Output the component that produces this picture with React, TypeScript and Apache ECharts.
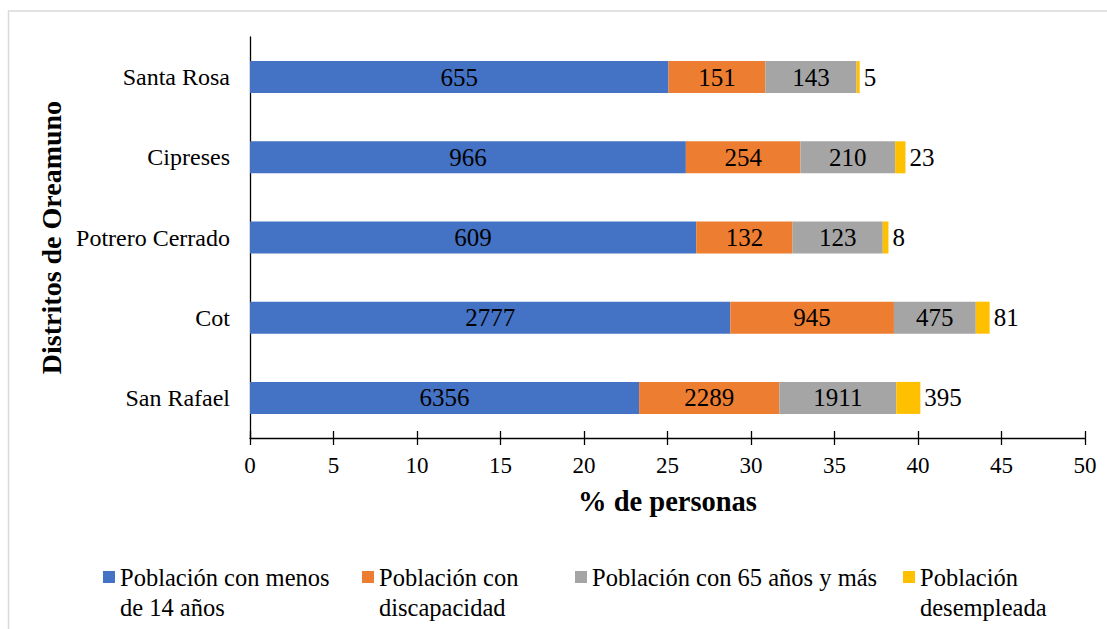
import React, { useEffect, useRef } from "react";
import * as echarts from "echarts";

const categories = ["San Rafael", "Cot", "Potrero Cerrado", "Cipreses", "Santa Rosa"];
const seriesNames = [
  "Población con menos de 14 años",
  "Población con discapacidad",
  "Población con 65 años y más",
  "Población desempleada",
];
const legendLines = [
  " \nPoblación con menos\nde 14 años",
  " \nPoblación con\ndiscapacidad",
  "Población con 65 años y más",
  " \nPoblación\ndesempleada",
];
const colors = ["#4472C4", "#ED7D31", "#A5A5A5", "#FFC000"];

// % de personas (bar lengths)
const pctMenos14 = [23.3, 28.76, 26.72, 26.1, 25.06];
const pctDiscap = [8.4, 9.8, 5.77, 6.86, 5.8];
const pct65 = [7.0, 4.9, 5.4, 5.67, 5.46];
const pctDesemp = [1.44, 0.83, 0.34, 0.62, 0.19];

// absolute counts (labels)
const cntMenos14 = [6356, 2777, 609, 966, 655];
const cntDiscap = [2289, 945, 132, 254, 151];
const cnt65 = [1911, 475, 123, 210, 143];
const cntDesemp = [395, 81, 8, 23, 5];

const xTicks = { min: 0, max: 50, interval: 5 };

const FONT = "Times New Roman, Liberation Serif, DejaVu Serif, serif";

export default function App() {
  const ref = useRef<HTMLDivElement>(null);
  useEffect(() => {
    if (!ref.current) return;
    const chart = echarts.init(ref.current, undefined, { renderer: "svg" });
    const pcts = [pctMenos14, pctDiscap, pct65, pctDesemp];
    const cnts = [cntMenos14, cntDiscap, cnt65, cntDesemp];
    const legendLeft = [103, 362, 575, 903];
    const LH = 30;
    const iconCenter = 577;
    const legends = seriesNames.map((n, i) => {
      const multi = legendLines[i].indexOf("\n") >= 0;
      return {
        data: [n],
        left: legendLeft[i],
        top: multi ? iconCenter - 1.5 * LH : iconCenter - 0.5 * LH,
        padding: 0,
        icon: "rect",
        itemWidth: 12,
        itemHeight: 12,
        selectedMode: false,
        formatter: () => legendLines[i],
        textStyle: {
          fontFamily: FONT,
          fontSize: 24.5,
          color: "#000",
          lineHeight: LH,
        },
      };
    });
    const option: any = {
      animation: false,
      backgroundColor: "#fff",
      textStyle: { fontFamily: FONT },
      graphic: [
        {
          type: "rect",
          shape: { x: 8.5, y: 11, width: 1300, height: 800 },
          style: { fill: "none", stroke: "#d9d9d9", lineWidth: 1.5 },
          silent: true,
        },
      ],
      grid: { left: 250, right: 22, top: 37, bottom: 629 - 438, containLabel: false },
      legend: legends,
      xAxis: [
        {
          type: "value",
          ...xTicks,
          position: "bottom",
          name: "% de personas",
          nameLocation: "middle",
          nameGap: 49,
          nameTextStyle: { fontFamily: FONT, fontSize: 28.5, fontWeight: "bold", color: "#000" },
          axisLine: { show: true, lineStyle: { color: "#000", width: 1.3 } },
          axisTick: { show: true, inside: false, length: 7, lineStyle: { color: "#000", width: 1.3 } },
          axisLabel: { fontFamily: FONT, fontSize: 23, color: "#000", margin: 16 },
          splitLine: { show: false },
        },
        {
          type: "value",
          ...xTicks,
          position: "bottom",
          axisLine: { show: false },
          axisTick: { show: true, inside: true, length: 7, lineStyle: { color: "#000", width: 1.3 } },
          axisLabel: { show: false },
          splitLine: { show: false },
        },
      ],
      yAxis: {
        type: "category",
        data: categories,
        name: "Distritos de Oreamuno",
        nameLocation: "middle",
        nameGap: 183,
        nameRotate: 90,
        nameTextStyle: { fontFamily: FONT, fontSize: 28, fontWeight: "bold", color: "#000" },
        axisLine: { show: true, lineStyle: { color: "#000", width: 1.3 } },
        axisTick: { show: false },
        axisLabel: { fontFamily: FONT, fontSize: 24, color: "#000", margin: 20 },
        splitLine: { show: false },
      },
      series: seriesNames.map((n, i) => ({
        name: n,
        type: "bar",
        stack: "total",
        xAxisIndex: 0,
        barWidth: 32,
        itemStyle: { color: colors[i] },
        label: {
          show: true,
          position: i === 3 ? "right" : "inside",
          distance: 4,
          fontFamily: FONT,
          fontSize: 25,
          color: "#000",
          formatter: (p: any) => String(cnts[i][p.dataIndex]),
        },
        data: pcts[i],
      })),
    };
    chart.setOption(option);
    return () => chart.dispose();
  }, []);
  return (
    <div
      ref={ref}
      style={{ position: "absolute", left: 0, top: 0, width: 1107, height: 629 }}
    />
  );
}
